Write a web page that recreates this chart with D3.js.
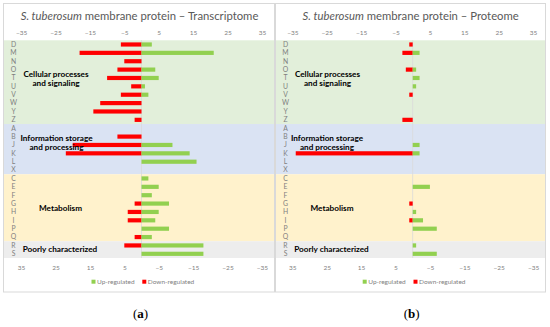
<!DOCTYPE html>
<html><head><meta charset="utf-8">
<script src="https://cdn.jsdelivr.net/npm/d3@7"></script>
<style>body{margin:0;background:#fff}svg{display:block}</style>
</head><body>
<svg id="c" width="550" height="327"></svg>
<script>
const categories = ["D","M","N","O","T","U","V","W","Y","Z","A","B","J","K","L","X","C","E","F","G","H","I","P","Q","R","S"];
const groups = [
  {name:["Cellular processes","and signaling"], from:"D", to:"Z", color:"#e2efda"},
  {name:["Information storage","and processing"], from:"A", to:"X", color:"#dae3f3"},
  {name:["Metabolism"], from:"C", to:"Q", color:"#fff2cc"},
  {name:["Poorly characterized"], from:"R", to:"S", color:"#ededed"}
];
const ticksTop = [-35,-25,-15,-5,5,15,25,35];
const ticksBottom = [35,25,15,5,-5,-15,-25,-35];
// Transcriptome
const transUp   = [3,21,0,4,5,1,2,0,0,0, 0,0,9,14,16,0, 2,5,3,8,5,4,8,3, 18,18];
const transDown = [6,18,5,7,10,3,6,12,14,2, 0,7,20,22,0,0, 0,0,0,2,4,4,0,2, 5,0];
// Proteome
const protUp    = [0,2,0,1,2,1,0,0,0,0, 0,0,2,2,0,0, 0,5,0,0,1,3,7,0, 1,7];
const protDown  = [1,3,0,2,0,0,1,0,0,3, 0,0,0,34,0,0, 0,0,0,1,0,1,0,0, 0,0];

const svg = d3.select("#c");
const FONT = "Lato, 'Open Sans', sans-serif";

const panels = [
  {title:"Transcriptome", up:transUp, down:transDown, x0:3.5, x1:274.5, zero:141.5, caption:"a",
   labels:[{cx:56,y:[74,83]},{cx:56.5,y:[138.5,147.5]},{cx:60.5,y:[208]},{cx:60,y:[249.5]}]},
  {title:"Proteome", up:protUp, down:protDown, x0:275.5, x1:545.5, zero:412.7, caption:"b",
   labels:[{cx:327.5,y:[74,83]},{cx:327,y:[138.5,147.5]},{cx:332,y:[208]},{cx:331.5,y:[249.5]}]}
];

const y = d3.scaleBand().domain(categories).range([40.3, 258]).paddingInner(0.5).paddingOuter(0.25);

panels.forEach(p => {
  const g = svg.append("g");
  const half = 35*3.44;
  const x = d3.scaleLinear().domain([-35,35]).range([p.zero-half, p.zero+half]);
  const xb = d3.scaleLinear().domain([35,-35]).range([p.zero-half, p.zero+half]);
  g.append("rect").attr("x",p.x0).attr("y",3.5).attr("width",p.x1-p.x0).attr("height",288.5)
    .attr("fill","#fff").attr("stroke","#d9d9d9").attr("stroke-width",1);
  groups.forEach(gr => {
    const top = y(gr.from) - (y.step()-y.bandwidth())/2;
    const bot = y(gr.to) + y.bandwidth() + (y.step()-y.bandwidth())/2;
    g.append("rect").attr("x",p.x0+0.5).attr("width",p.x1-p.x0-1)
      .attr("y",top).attr("height",bot-top).attr("fill",gr.color);
  });
  g.append("line").attr("x1",x(0)).attr("x2",x(0)).attr("y1",40.3).attr("y2",258)
    .attr("stroke","#d9d9d9").attr("stroke-width",0.8);
  g.selectAll(".down").data(categories).join("rect")
    .attr("x",(d,i)=>x(-p.down[i])).attr("width",(d,i)=>x(0)-x(-p.down[i]))
    .attr("y",d=>y(d)).attr("height",y.bandwidth()).attr("fill","#ff0000");
  g.selectAll(".up").data(categories).join("rect")
    .attr("x",x(0)).attr("width",(d,i)=>x(p.up[i])-x(0))
    .attr("y",d=>y(d)).attr("height",y.bandwidth()).attr("fill","#92d050");
  g.selectAll(".cat").data(categories).join("text")
    .attr("x",p.x0+10).attr("y",d=>y(d)+y.bandwidth()/2).attr("dy","0.35em")
    .attr("text-anchor","middle").attr("font-family",FONT).attr("font-size",6.8)
    .attr("fill","#7f7f7f").text(d=>d);
  const at = d3.axisTop(x).tickValues(ticksTop).tickSize(0).tickPadding(0);
  const gt = g.append("g").attr("transform","translate(0,34.5)").call(at);
  gt.select(".domain").remove();
  gt.selectAll("text").attr("font-family",FONT).attr("font-size",6.5).attr("fill","#7f7f7f");
  const ab = d3.axisBottom(xb).tickValues(ticksBottom).tickSize(0).tickPadding(0);
  const gb = g.append("g").attr("transform","translate(0,265)").call(ab);
  gb.select(".domain").remove();
  gb.selectAll("text").attr("font-family",FONT).attr("font-size",6.5).attr("fill","#7f7f7f");
  const cx = p.zero - 2;
  const t = g.append("text").attr("x",cx).attr("y",20).attr("text-anchor","middle")
    .attr("font-family",FONT).attr("font-size",11.3).attr("fill","#595959");
  t.append("tspan").attr("font-style","italic").text("S. tuberosum");
  t.append("tspan").text(" membrane protein \u2013 " + p.title);
  groups.forEach((gr,i) => {
    const L = p.labels[i];
    gr.name.forEach((line,j) => {
      g.append("text").attr("x",L.cx).attr("y",L.y[j]).attr("dy","0.35em")
        .attr("text-anchor","middle").attr("font-family",FONT).attr("font-weight","bold")
        .attr("font-size",8.2).attr("fill","#000").text(line);
    });
  });
  const lg = g.append("g").attr("transform",`translate(${p.zero},281.7)`);
  const items = [{t:"Up-regulated",c:"#92d050",dx:-50},{t:"Down-regulated",c:"#ff0000",dx:0.8}];
  items.forEach(it => {
    lg.append("rect").attr("x",it.dx).attr("y",-2).attr("width",4).attr("height",4).attr("fill",it.c);
    lg.append("text").attr("x",it.dx+5.5).attr("y",0).attr("dy","0.35em")
      .attr("font-family",FONT).attr("font-size",6.5).attr("fill","#7f7f7f").text(it.t);
  });
  const cap = svg.append("text").attr("x",p.zero-1).attr("y",318).attr("text-anchor","middle")
    .attr("font-family","'Liberation Serif', 'DejaVu Serif', serif").attr("font-size",13).attr("fill","#000");
  cap.append("tspan").text("(");
  cap.append("tspan").attr("font-weight","bold").text(p.caption);
  cap.append("tspan").text(")");
});
</script>
</body></html>
